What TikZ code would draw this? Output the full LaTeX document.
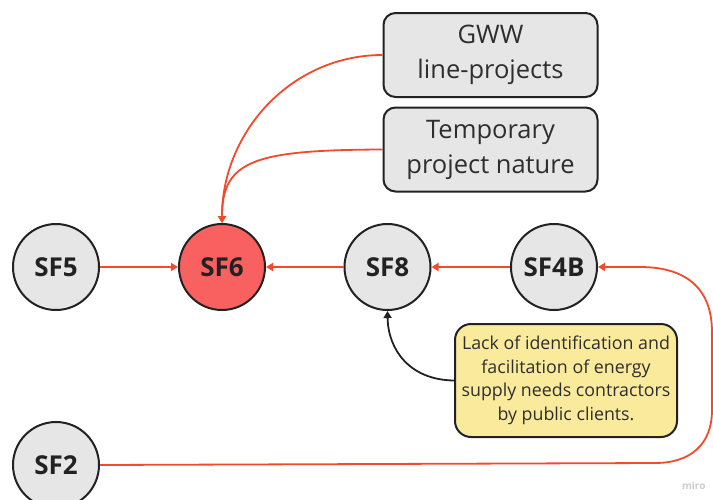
\documentclass[tikz,border=0pt]{standalone}
\usepackage{fontspec}
\setmainfont{Open Sans}
\usetikzlibrary{arrows.meta}
\definecolor{edgered}{HTML}{F24A2B}
\definecolor{nodegray}{HTML}{E6E6E6}
\definecolor{hotred}{HTML}{F96060}
\definecolor{noteyellow}{HTML}{FAEA9C}
\definecolor{ink}{HTML}{222222}
\definecolor{textgray}{HTML}{2E2E2E}
\begin{document}
\begin{tikzpicture}[x=1pt,y=-1pt,
  factor/.style={circle, draw=ink, line width=2pt, fill=nodegray, minimum size=86pt,
    inner sep=0pt, font=\bfseries\fontsize{26}{30}\selectfont, text=ink},
  cause/.style={rounded corners=12pt, draw=ink, line width=2pt, fill=nodegray,
    minimum width=214pt, minimum height=84pt, align=center,
    font=\fontsize{25.5}{35}\selectfont, text=textgray},
  note/.style={rounded corners=16pt, draw=ink, line width=2pt, fill=noteyellow,
    minimum width=222pt, minimum height=113pt, align=center,
    font=\fontsize{17.8}{23.5}\selectfont, text=textgray},
  link/.style={draw=edgered, line width=1.8pt, -{Triangle[length=7pt,width=8pt]}},
  blink/.style={draw=ink, line width=1.8pt, -{Triangle[length=7pt,width=8pt]}},
]
\useasboundingbox (0,0) rectangle (713,499);

% factor circles
\node[factor] (sf5) at (56,267) {SF5};
\node[factor, fill=hotred] (sf6) at (222,267) {SF6};
\node[factor] (sf8) at (387.5,267) {SF8};
\node[factor] (sf4b) at (554,267) {SF4B};
\node[factor] (sf2) at (56,465) {SF2};

% cause boxes
\node[cause] (gww) at (490.5,55) {GWW\\line-projects};
\node[cause] (temp) at (490.5,149.5) {Temporary\\project nature};
\node[note] (lack) at (566,380.5) {Lack of identification and\\facilitation of energy\\supply needs contractors\\by public clients.};

% connectors
\draw[link] (sf5) -- (sf6);
\draw[link] (sf8) -- (sf6);
\draw[link] (sf4b) -- (sf8);
\draw[link] (gww.west) to[out=180,in=90] (sf6.north);
\draw[link] (temp.west) .. controls (255,150) and (222,160) .. (sf6.north);
\draw[link] (sf2.east) -- (655,463) .. controls (690,463) and (712,445) .. (712,410)
  -- (712,332) .. controls (712,292) and (690,267) .. (640,267) -- (sf4b.east);
\draw[blink] (lack.west) .. controls (410,380) and (388,350) .. (sf8.south);

% watermark
\node[text=gray!40, font=\bfseries\fontsize{10}{12}\selectfont, anchor=east] (wm) at (709,486) {miro};
\end{tikzpicture}
\end{document}
